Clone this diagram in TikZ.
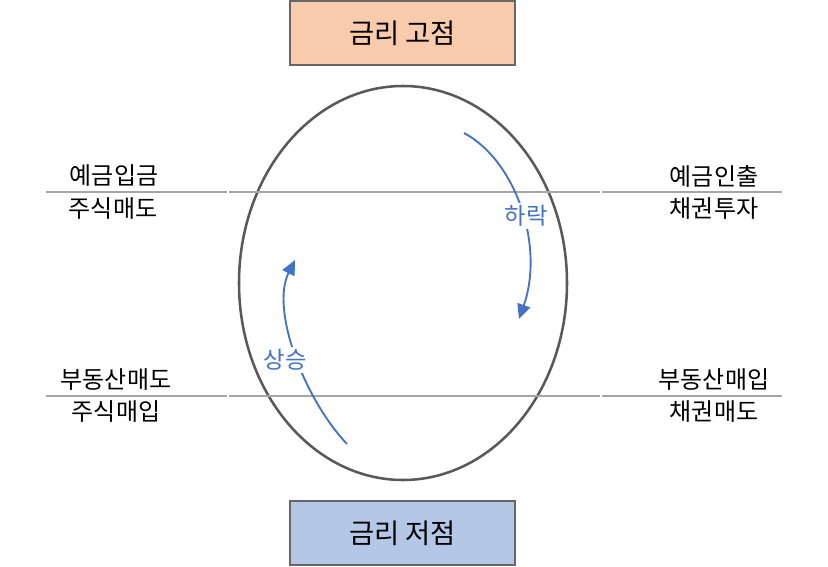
\documentclass[tikz,border=0pt]{standalone}
\usepackage{fontspec}
\setmainfont{Noto Sans CJK KR}
\usetikzlibrary{shapes.geometric, arrows.meta, positioning}
\definecolor{peach}{HTML}{F8CBAD}
\definecolor{paleblue}{HTML}{B4C7E7}
\definecolor{trend}{HTML}{4472C4}
\definecolor{axisgray}{HTML}{A6A6A6}
\tikzstyle{ratebox} = [rectangle, minimum width=168.75pt, 
minimum height=48pt, text centered, draw=black!60, 
line width=0.9pt, font=\fontsize{20.5}{24}\selectfont]
\tikzstyle{asset} = [font=\fontsize{18}{21}\selectfont, 
inner sep=0pt]
\tikzstyle{trendlabel} = [fill=white, text=trend, inner sep=1.5pt, 
font=\fontsize{17.5}{20}\selectfont]
\tikzstyle{axis} = [axisgray, line width=1.5pt]
\tikzstyle{trendarrow} = [trend, line width=1.4pt, 
-{Triangle[length=11pt,width=10pt]}]

\begin{document}
\begin{tikzpicture}[x=0.75pt, y=-0.75pt]
\useasboundingbox (0,0) rectangle (828,567);

\node (high) [ratebox, fill=peach] at (402.5,33) {금리 고점};
\node (low) [ratebox, fill=paleblue] at (402.5,533) {금리 저점};

\node (cycle) [ellipse, draw=black!65, line width=1.9pt, 
minimum width=246pt, minimum height=295.5pt] at (403,283) {};

% axis lines
\coordinate (t1) at (46,192);
\coordinate (t2) at (228,192);
\coordinate (t3) at (601,192);
\coordinate (t4) at (782,192);
\coordinate (b1) at (46,396);
\coordinate (b2) at (228,396);
\coordinate (b3) at (601,396);
\coordinate (b4) at (782,396);
\draw [axis] (t1) -- ([xshift=-0.8pt]t2);
\draw [axis] ([xshift=0.8pt]t2) -- ([xshift=-0.8pt]t3);
\draw [axis] ([xshift=0.8pt]t3) -- (t4);
\draw [axis] (b1) -- ([xshift=-0.8pt]b2);
\draw [axis] ([xshift=0.8pt]b2) -- ([xshift=-0.8pt]b3);
\draw [axis] ([xshift=0.8pt]b3) -- (b4);

\node (deposit) [asset] at (114,176) {예금입금};
\node (stocksell) [asset] at (113,209) {주식매도};
\node (withdraw) [asset] at (714,176) {예금인출};
\node (bondbuy) [asset] at (714,209) {채권투자};
\node (estatesell) [asset] at (116,380) {부동산매도};
\node (stockbuy) [asset] at (116,412) {주식매입};
\node (estatebuy) [asset] at (714,380) {부동산매입};
\node (bondsell) [asset] at (714,412) {채권매도};

% trend arrows
\coordinate (fall0) at (464,133);
\coordinate (fall1) at (519,319);
\coordinate (rise0) at (347,444);
\coordinate (rise1) at (295,260);
\draw [trendarrow] (fall0) .. controls (515,160) and (545,245) .. (fall1);
\draw [trendarrow] (rise0) .. controls (305,400) and (270,310) .. (rise1);
\node (fall) [trendlabel] at (526,216) {하락};
\node (rise) [trendlabel] at (285,360) {상승};

\end{tikzpicture}
\end{document}
